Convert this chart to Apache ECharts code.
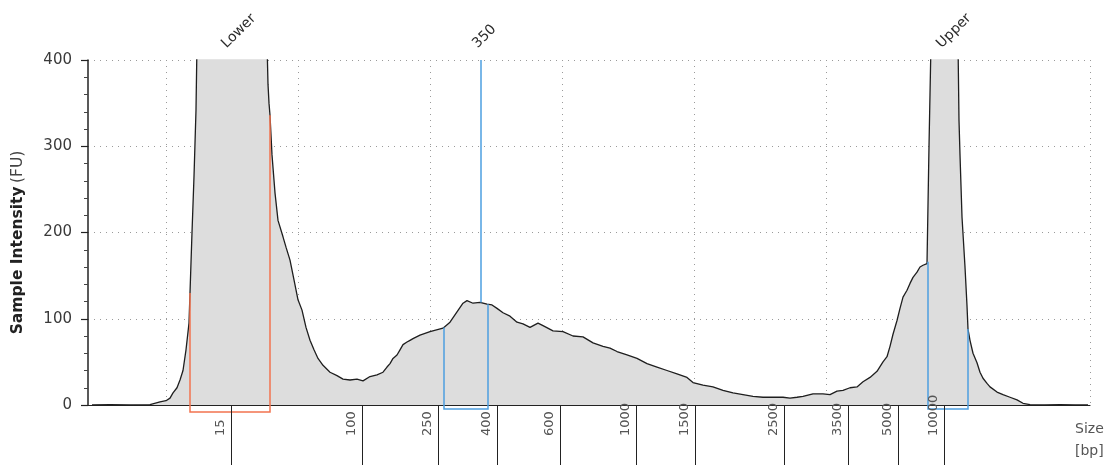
<!DOCTYPE html>
<html>
<head>
<meta charset="utf-8">
<script src="https://cdn.jsdelivr.net/npm/echarts@6/dist/echarts.min.js"></script>
<style>
  html, body { margin: 0; padding: 0; background: #fff; }
  #chart { width: 1107px; height: 470px; }
</style>
</head>
<body>
<div id="chart"></div>
<script>
// Electropherogram trace: migration position vs. fluorescence (FU)
const tracePos = [4, 22, 42, 62, 72, 78, 82, 85, 89, 92, 95, 98, 101, 102, 104, 106, 108, 109, 111, 144, 177, 179, 180, 181, 182, 184, 187, 190, 195, 198, 202, 206, 210, 214, 218, 222, 226, 230, 235, 242, 249, 255, 262, 269, 275, 282, 289, 295, 299, 302, 305, 309, 312, 315, 319, 322, 325, 332, 342, 355, 362, 369, 375, 379, 385, 392, 399, 404, 409, 415, 422, 429, 435, 442, 450, 455, 465, 475, 485, 495, 505, 515, 522, 529, 539, 549, 559, 569, 579, 589, 599, 605, 615, 625, 635, 645, 655, 665, 675, 685, 695, 702, 709, 715, 725, 735, 742, 749, 755, 762, 769, 775, 782, 789, 795, 799, 802, 805, 809, 812, 815, 819, 822, 825, 829, 832, 835, 839, 840, 841, 842, 843, 846, 868, 870, 871, 872, 874, 877, 879, 880, 882, 885, 889, 892, 895, 899, 902, 909, 915, 922, 929, 935, 942, 957, 972, 987, 1000];
const traceFU = [0, 0.5, 0, 0.5, 3.5, 5, 8, 14, 20, 29, 40, 64, 95, 130, 200, 265, 342, 420, 1400, 1600, 1400, 420, 372, 350, 336, 290, 246, 214, 195, 183, 168, 145, 122, 110, 90, 75, 64, 54, 46, 38, 34, 30, 29, 30, 28, 33, 35, 38, 44, 48, 54, 58, 64, 70, 73, 75, 77, 81, 85, 89, 96, 108, 118, 121, 118, 119, 117, 116, 112, 107, 103, 96, 94, 90, 95, 92, 86, 85, 80, 79, 72, 68, 66, 62, 58, 54, 48, 44, 40, 36, 32, 26, 23, 21, 17, 14, 12, 10, 9, 9, 9, 8, 9, 10, 13, 13, 12, 16, 17, 20, 21, 27, 32, 39, 50, 56, 68, 82, 98, 112, 125, 133, 141, 148, 154, 160, 162, 164, 166, 300, 360, 420, 1500, 1400, 420, 330, 290, 218, 160, 115, 88, 75, 60, 49, 38, 31, 25, 21, 15, 12, 9, 6, 2, 0.5, 0, 0.5, 0, 0];

// Sizing ladder: fragment size (bp) and its migration position
const ladderBp = ['15', '100', '250', '400', '600', '1000', '1500', '2500', '3500', '5000', '10000'];
const ladderPos = [143, 274, 350, 409, 472, 548, 607, 696, 760, 810, 856];

// Called peaks shown above the plot
const peakNames = ['Lower', '350', 'Upper'];
const peakPos = [142, 393, 857];

// Integration regions: [from, to] and kind (marker / sample)
const regionFrom = [102, 356, 840];
const regionTo = [182, 400, 880];
const regionKind = ['marker', 'sample', 'sample'];

const yTicks = [0, 100, 200, 300, 400];

const COLORS = { marker: '#f2734f', sample: '#4d9fe0' };
const DROP = { marker: 7, sample: 4 };

function traceAt(p) {
  for (let i = 1; i < tracePos.length; i++) {
    if (p <= tracePos[i]) {
      const a = tracePos[i - 1], b = tracePos[i];
      const t = (p - a) / (b - a);
      return traceFU[i - 1] + t * (traceFU[i] - traceFU[i - 1]);
    }
  }
  return traceFU[traceFU.length - 1];
}

const bpByPos = {};
ladderPos.forEach((p, i) => { bpByPos[p] = ladderBp[i]; });

const traceData = tracePos.map((p, i) => [p, traceFU[i]]);
const regionData = regionFrom.map((f, i) => [f, regionTo[i], traceAt(f), traceAt(regionTo[i]), i]);
const yTop = yTicks[yTicks.length - 1];
const sizedPeak = peakPos[1];

const chart = echarts.init(document.getElementById('chart'), null, { renderer: 'canvas' });

const dotted = { color: '#9a9a9a', width: 1, type: [1, 5] };
const FONT = 'DejaVu Sans';

chart.setOption({
  animation: false,
  backgroundColor: '#ffffff',
  grid: [
    { left: 88, right: 17, top: 60, bottom: 65 },
    { left: 166, right: 17, top: 60, bottom: 65 }
  ],
  xAxis: [
    {
      gridIndex: 0, type: 'value', min: 0, max: 1002,
      axisLine: { show: true, onZero: false, lineStyle: { color: '#222', width: 1.2 } },
      axisTick: { show: false }, axisLabel: { show: false }, splitLine: { show: false }
    },
    {
      gridIndex: 0, type: 'value', min: 0, max: 1002, position: 'bottom', offset: 8, z: 10,
      axisLine: { show: false },
      axisTick: { show: true, customValues: ladderPos, length: 60, lineStyle: { color: '#222', width: 1 } },
      axisLabel: {
        show: true, customValues: ladderPos, rotate: 90, margin: 23,
        align: 'left', verticalAlign: 'bottom', padding: [0, 0, 4, 0],
        color: '#555', fontFamily: FONT, fontSize: 13,
        formatter: v => bpByPos[v] || ''
      },
      splitLine: { show: false },
      name: 'Size\n[bp]', nameLocation: 'end', nameGap: -15,
      nameTextStyle: {
        color: '#555', fontFamily: FONT, fontSize: 14, align: 'left',
        verticalAlign: 'top', lineHeight: 22, padding: [13, 0, 0, 0]
      }
    },
    {
      gridIndex: 1, type: 'value', min: 0, max: 7, interval: 1,
      axisLine: { show: false }, axisTick: { show: false }, axisLabel: { show: false },
      splitLine: { show: true, showMinLine: true, showMaxLine: true, lineStyle: dotted }
    }
  ],
  yAxis: [
    {
      gridIndex: 0, type: 'value', min: yTicks[0], max: yTop, interval: 100,
      axisLine: { show: true, lineStyle: { color: '#222', width: 1.5 } },
      axisTick: { show: true, length: 7, lineStyle: { color: '#222', width: 1.2 } },
      minorTick: { show: true, splitNumber: 5, length: 4, lineStyle: { color: '#444', width: 1 } },
      axisLabel: { color: '#3a3a3a', fontFamily: FONT, fontSize: 15, margin: 16 },
      splitLine: { show: true, lineStyle: dotted },
      name: '{b|Sample Intensity} {r|(FU)}',
      nameLocation: 'middle', nameRotate: 90, nameGap: 62,
      nameTextStyle: {
        padding: [0, 20, 0, 0],
        rich: {
          b: { fontFamily: FONT, fontSize: 15.5, fontWeight: 'bold', color: '#222' },
          r: { fontFamily: FONT, fontSize: 15.5, color: '#444' }
        }
      }
    },
    {
      gridIndex: 1, type: 'value', min: 0, max: 400,
      axisLine: { show: false }, axisTick: { show: false }, axisLabel: { show: false },
      splitLine: { show: false }
    }
  ],
  series: [
    {
      type: 'line', xAxisIndex: 0, yAxisIndex: 0,
      data: traceData, showSymbol: false, clip: true, z: 2,
      lineStyle: { color: '#1e1e1e', width: 1.3 },
      areaStyle: { color: '#dddddd', opacity: 1 },
      markLine: {
        symbol: 'none', silent: true, label: { show: false },
        lineStyle: { color: COLORS.sample, width: 1.5, type: 'solid' },
        data: [[{ coord: [sizedPeak, yTop] }, { coord: [sizedPeak, traceAt(sizedPeak)] }]]
      }
    },
    {
      // integration region brackets
      type: 'custom', xAxisIndex: 0, yAxisIndex: 0, clip: false, z: 4,
      data: regionData,
      renderItem: function (params, api) {
        const kind = regionKind[api.value(4)];
        const x0 = api.value(0), x1 = api.value(1);
        const top0 = api.coord([x0, api.value(2)]);
        const base0 = api.coord([x0, 0]);
        const base1 = api.coord([x1, 0]);
        const top1 = api.coord([x1, api.value(3)]);
        const d = DROP[kind];
        return {
          type: 'polyline',
          shape: { points: [top0, [base0[0], base0[1] + d], [base1[0], base1[1] + d], top1] },
          style: { stroke: COLORS[kind], fill: null, lineWidth: 1.5 }
        };
      }
    },
    {
      // peak captions above the plot, slanted 45°
      type: 'custom', xAxisIndex: 0, yAxisIndex: 0, clip: false, z: 5,
      data: peakPos.map((p, i) => [p, yTop, i]),
      renderItem: function (params, api) {
        const pt = api.coord([api.value(0), api.value(1)]);
        return {
          type: 'text',
          x: pt[0] - 1, y: pt[1] - 9,
          rotation: Math.PI / 4,
          style: {
            text: peakNames[api.value(2)],
            align: 'left', verticalAlign: 'bottom',
            fill: '#2a2a2a', font: '14px "DejaVu Sans"'
          }
        };
      }
    }
  ]
});
</script>
</body>
</html>
